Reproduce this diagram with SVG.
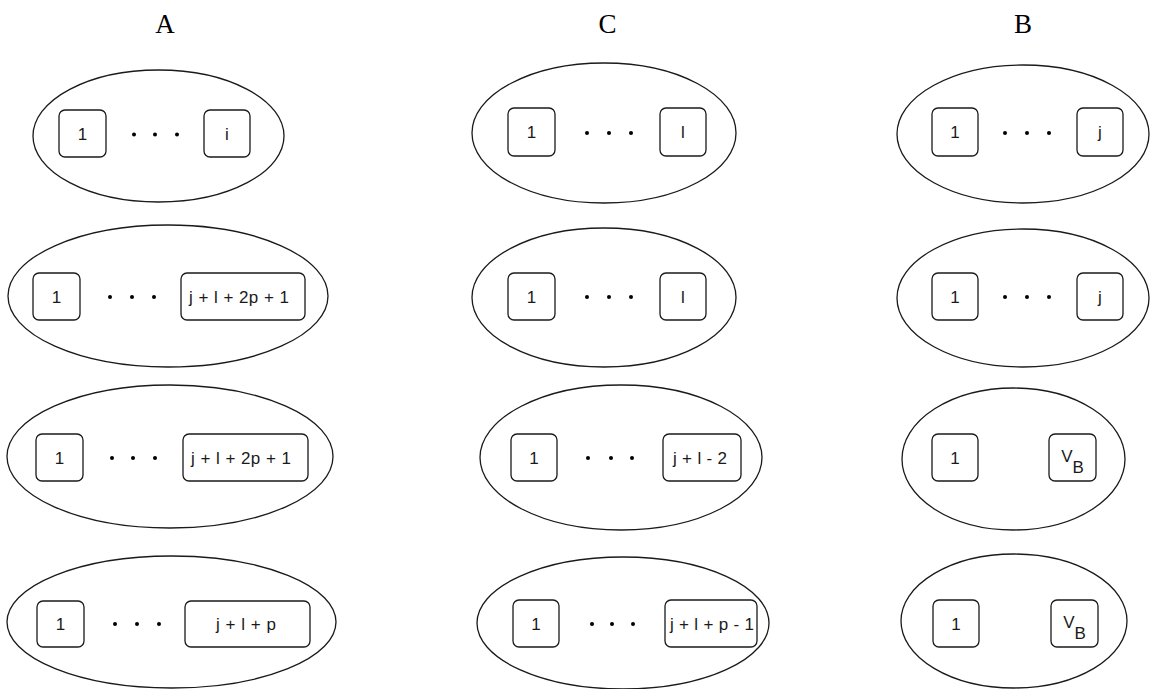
<svg xmlns="http://www.w3.org/2000/svg" width="1151" height="689" viewBox="0 0 1151 689">
<style>
.bg{fill:#fff}
.el{fill:none;stroke:#1a1a1a;stroke-width:1.3}
.bx{fill:none;stroke:#1a1a1a;stroke-width:1.3}
.t{font-family:"Liberation Sans",Arial,sans-serif;font-size:17px;fill:#1a1a1a;text-anchor:middle}
.h{font-family:"Liberation Serif","Times New Roman",serif;font-size:27px;fill:#000;text-anchor:middle}
.d{fill:#000}
</style>
<rect class="bg" x="0" y="0" width="1151" height="689"/>
<g id="headers">
<text class="h" x="165" y="33">A</text>
<text class="h" x="607.5" y="33">C</text>
<text class="h" x="1023" y="33">B</text>
</g>
<g id="A1">
<ellipse class="el" cx="158.5" cy="136" rx="125.5" ry="66"/>
<rect class="bx" x="59" y="110" width="47" height="47" rx="6"/>
<text class="t" x="82.5" y="140">1</text>
<circle class="d" cx="134" cy="134.5" r="2"/><circle class="d" cx="155" cy="134.5" r="2"/><circle class="d" cx="177" cy="134.5" r="2"/>
<rect class="bx" x="204" y="110" width="46" height="47" rx="6"/>
<text class="t" x="227" y="140">i</text>
</g>
<g id="A2">
<ellipse class="el" cx="168" cy="296" rx="160" ry="71"/>
<rect class="bx" x="33" y="273" width="47" height="47" rx="6"/>
<text class="t" x="56.5" y="303">1</text>
<circle class="d" cx="110" cy="297" r="2"/><circle class="d" cx="132" cy="297" r="2"/><circle class="d" cx="154" cy="297" r="2"/>
<rect class="bx" x="181" y="273" width="124" height="47" rx="6"/>
<text class="t" x="239" y="303" textLength="100" lengthAdjust="spacing">j + l + 2p + 1</text>
</g>
<g id="A3">
<ellipse class="el" cx="170" cy="456.5" rx="163" ry="71.5"/>
<rect class="bx" x="36" y="434" width="47" height="47" rx="6"/>
<text class="t" x="59.5" y="464">1</text>
<circle class="d" cx="112" cy="458" r="2"/><circle class="d" cx="133" cy="458" r="2"/><circle class="d" cx="155" cy="458" r="2"/>
<rect class="bx" x="183" y="434" width="125" height="47" rx="6"/>
<text class="t" x="241" y="464" textLength="100" lengthAdjust="spacing">j + l + 2p + 1</text>
</g>
<g id="A4">
<ellipse class="el" cx="171.5" cy="622" rx="164.5" ry="66"/>
<rect class="bx" x="37" y="601" width="47" height="46" rx="6"/>
<text class="t" x="60.5" y="630">1</text>
<circle class="d" cx="115" cy="624" r="2"/><circle class="d" cx="137" cy="624" r="2"/><circle class="d" cx="159" cy="624" r="2"/>
<rect class="bx" x="185" y="601" width="125" height="46" rx="6"/>
<text class="t" x="246" y="630" textLength="60" lengthAdjust="spacing">j + l + p</text>
</g>
<g id="C1">
<ellipse class="el" cx="604" cy="133" rx="132" ry="70"/>
<rect class="bx" x="508" y="108" width="47" height="48" rx="6"/>
<text class="t" x="531.5" y="138">1</text>
<circle class="d" cx="587" cy="133" r="2"/><circle class="d" cx="609" cy="133" r="2"/><circle class="d" cx="631" cy="133" r="2"/>
<rect class="bx" x="660" y="108" width="46" height="48" rx="6"/>
<text class="t" x="683" y="138">l</text>
</g>
<g id="C2">
<ellipse class="el" cx="604" cy="297.5" rx="132" ry="69.5"/>
<rect class="bx" x="508" y="273" width="47" height="47" rx="6"/>
<text class="t" x="531.5" y="303">1</text>
<circle class="d" cx="587" cy="297" r="2"/><circle class="d" cx="609" cy="297" r="2"/><circle class="d" cx="631" cy="297" r="2"/>
<rect class="bx" x="660" y="273" width="46" height="47" rx="6"/>
<text class="t" x="683" y="303">l</text>
</g>
<g id="C3">
<ellipse class="el" cx="621" cy="457.5" rx="141" ry="72.5"/>
<rect class="bx" x="511" y="434" width="46" height="47" rx="6"/>
<text class="t" x="534" y="464">1</text>
<circle class="d" cx="588" cy="458" r="2"/><circle class="d" cx="611" cy="458" r="2"/><circle class="d" cx="632" cy="458" r="2"/>
<rect class="bx" x="663" y="434" width="78" height="47" rx="6"/>
<text class="t" x="700" y="464" textLength="54" lengthAdjust="spacing">j + l - 2</text>
</g>
<g id="C4">
<ellipse class="el" cx="623" cy="623" rx="146" ry="66"/>
<rect class="bx" x="513" y="600" width="46" height="47" rx="6"/>
<text class="t" x="536" y="630">1</text>
<circle class="d" cx="592" cy="624" r="2"/><circle class="d" cx="612" cy="624" r="2"/><circle class="d" cx="633" cy="624" r="2"/>
<rect class="bx" x="665" y="600" width="92" height="47" rx="6"/>
<text class="t" x="712" y="630" textLength="84" lengthAdjust="spacing">j + l + p - 1</text>
</g>
<g id="B1">
<ellipse class="el" cx="1023" cy="134" rx="126" ry="69"/>
<rect class="bx" x="932" y="108" width="46" height="48" rx="6"/>
<text class="t" x="955" y="138">1</text>
<circle class="d" cx="1005" cy="133" r="2"/><circle class="d" cx="1027" cy="133" r="2"/><circle class="d" cx="1049" cy="133" r="2"/>
<rect class="bx" x="1077" y="108" width="46" height="48" rx="6"/>
<text class="t" x="1100" y="138">j</text>
</g>
<g id="B2">
<ellipse class="el" cx="1023" cy="298" rx="126" ry="69"/>
<rect class="bx" x="932" y="273" width="46" height="47" rx="6"/>
<text class="t" x="955" y="303">1</text>
<circle class="d" cx="1005" cy="297" r="2"/><circle class="d" cx="1027" cy="297" r="2"/><circle class="d" cx="1049" cy="297" r="2"/>
<rect class="bx" x="1077" y="273" width="46" height="47" rx="6"/>
<text class="t" x="1100" y="303">j</text>
</g>
<g id="B3">
<ellipse class="el" cx="1013.5" cy="459" rx="111.5" ry="71"/>
<rect class="bx" x="932" y="434" width="46" height="47" rx="6"/>
<text class="t" x="955" y="464">1</text>
<rect class="bx" x="1049" y="434" width="47" height="47" rx="6"/>
<text class="t" x="1072.5" y="462">V<tspan dy="11">B</tspan></text>
</g>
<g id="B4">
<ellipse class="el" cx="1014" cy="621" rx="113" ry="67"/>
<rect class="bx" x="933" y="600" width="46" height="47" rx="6"/>
<text class="t" x="956" y="630">1</text>
<rect class="bx" x="1051" y="600" width="47" height="47" rx="6"/>
<text class="t" x="1074.5" y="628">V<tspan dy="11">B</tspan></text>
</g>
</svg>
